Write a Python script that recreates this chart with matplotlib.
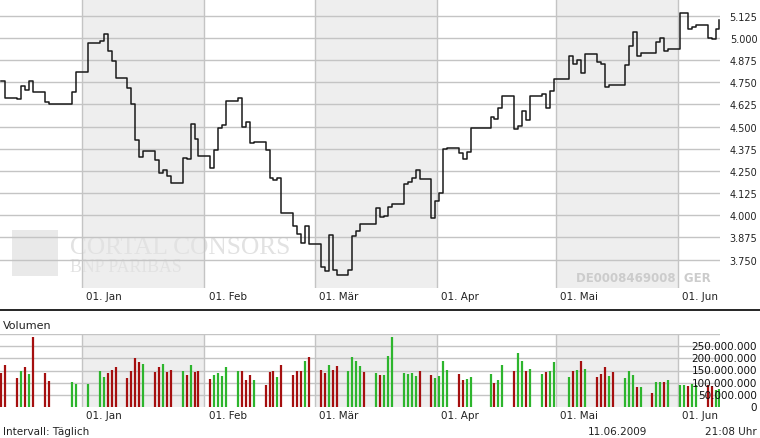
import matplotlib
matplotlib.use("Agg")
import matplotlib.pyplot as plt
from matplotlib.patches import Rectangle
from matplotlib.lines import Line2D
import pandas as pd

# Kursdaten (Tagesschluss) und Volumen
dates = [
    "2008-12-11", "2008-12-12", "2008-12-15", "2008-12-16", "2008-12-17", "2008-12-18", "2008-12-19",
    "2008-12-22", "2008-12-23", "2008-12-29", "2008-12-30", "2009-01-02",
    "2009-01-05", "2009-01-06", "2009-01-07", "2009-01-08", "2009-01-09",
    "2009-01-12", "2009-01-13", "2009-01-14", "2009-01-15", "2009-01-16",
    "2009-01-19", "2009-01-20", "2009-01-21", "2009-01-22", "2009-01-23",
    "2009-01-26", "2009-01-27", "2009-01-28", "2009-01-29", "2009-01-30",
    "2009-02-02", "2009-02-03", "2009-02-04", "2009-02-05", "2009-02-06",
    "2009-02-09", "2009-02-10", "2009-02-11", "2009-02-12", "2009-02-13",
    "2009-02-16", "2009-02-17", "2009-02-18", "2009-02-19", "2009-02-20",
    "2009-02-23", "2009-02-24", "2009-02-25", "2009-02-26", "2009-02-27",
    "2009-03-02", "2009-03-03", "2009-03-04", "2009-03-05", "2009-03-06",
    "2009-03-09", "2009-03-10", "2009-03-11", "2009-03-12", "2009-03-13",
    "2009-03-16", "2009-03-17", "2009-03-18", "2009-03-19", "2009-03-20",
    "2009-03-23", "2009-03-24", "2009-03-25", "2009-03-26", "2009-03-27",
    "2009-03-30", "2009-03-31", "2009-04-01", "2009-04-02", "2009-04-03",
    "2009-04-06", "2009-04-07", "2009-04-08", "2009-04-09",
    "2009-04-14", "2009-04-15", "2009-04-16", "2009-04-17",
    "2009-04-20", "2009-04-21", "2009-04-22", "2009-04-23", "2009-04-24",
    "2009-04-27", "2009-04-28", "2009-04-29", "2009-04-30",
    "2009-05-04", "2009-05-05", "2009-05-06", "2009-05-07", "2009-05-08",
    "2009-05-11", "2009-05-12", "2009-05-13", "2009-05-14", "2009-05-15",
    "2009-05-18", "2009-05-19", "2009-05-20", "2009-05-21", "2009-05-22",
    "2009-05-25", "2009-05-26", "2009-05-27", "2009-05-28", "2009-05-29",
    "2009-06-01", "2009-06-02", "2009-06-03", "2009-06-04", "2009-06-05",
    "2009-06-08", "2009-06-09", "2009-06-10", "2009-06-11",
]

kurs = [
    4.759, 4.659, 4.654, 4.727, 4.705, 4.755, 4.693,
    4.637, 4.625, 4.698, 4.806, 4.970,
    4.982, 5.021, 4.929, 4.872, 4.776,
    4.716, 4.629, 4.422, 4.331, 4.363,
    4.312, 4.237, 4.255, 4.220, 4.180,
    4.325, 4.320, 4.516, 4.429, 4.337,
    4.269, 4.371, 4.490, 4.508, 4.642,
    4.663, 4.499, 4.529, 4.408, 4.412,
    4.367, 4.210, 4.201, 4.210, 4.014,
    3.937, 3.895, 3.846, 3.941, 3.839,
    3.707, 3.688, 3.890, 3.692, 3.665,
    3.692, 3.886, 3.910, 3.952, 3.950,
    4.043, 3.988, 3.995, 4.046, 4.065,
    4.174, 4.186, 4.212, 4.258, 4.203,
    3.987, 4.082, 4.127, 4.374, 4.382,
    4.350, 4.320, 4.356, 4.493,
    4.552, 4.546, 4.608, 4.671,
    4.486, 4.501, 4.591, 4.535, 4.671,
    4.685, 4.605, 4.699, 4.767,
    4.897, 4.852, 4.874, 4.801, 4.910,
    4.866, 4.852, 4.722, 4.733, 4.733,
    4.846, 4.954, 5.033, 4.897, 4.916,
    4.916, 4.980, 4.999, 4.929, 4.938,
    5.140, 5.140, 5.050, 5.063, 5.074,
    4.999, 4.993, 5.050, 5.102,
]

# Volumen in Mio. Stueck
volumen = [
    138, 171, 118, 150, 163, 134, 287,
    138, 106, 102, 93, 93,
    150, 122, 138, 154, 163,
    118, 146, 203, 183, 175,
    142, 163, 175, 142, 154,
    150, 130, 171, 142, 146,
    114, 130, 138, 126, 163,
    146, 146, 110, 130, 110,
    89, 142, 146, 122, 171,
    130, 150, 150, 187, 207,
    154, 138, 171, 154, 167,
    146, 207, 187, 167, 142,
    138, 130, 130, 211, 286,
    138, 134, 138, 126, 146,
    130, 118, 126, 187, 154,
    134, 110, 114, 122,
    134, 98, 110, 171,
    146, 220, 187, 146, 158,
    134, 142, 150, 183,
    122, 146, 154, 191, 158,
    122, 134, 163, 126, 142,
    118, 150, 130, 81, 81,
    57, 102, 102, 102, 110,
    89, 89, 85, 93, 89,
    89, 85, 69, 73,
]

# g = steigend (gruen), r = fallend (rot)
farbe = (
    "rrrgrgr" "rrggg" "gg" "rrr" "rrrrg" "rrgrr" "grgrr" "rgggg" "grrrg"
    "rrrgr" "rrrgr" "rrgrr" "ggggr" "grggg" "ggggr" "rgggg" "rrgg" "grgg"
    "rggrg" "grgg" "grgrg" "rrrgr" "gggrg" "rggrg" "ggrgg" "rrgg"
)

monate = ["2009-01-01", "2009-02-01", "2009-03-01", "2009-04-01", "2009-05-01", "2009-06-01"]
monat_labels = ["01. Jan", "01. Feb", "01. Mär", "01. Apr", "01. Mai", "01. Jun"]
grau_baender = [("2009-01-01", "2009-02-01"), ("2009-03-01", "2009-04-01"), ("2009-05-01", "2009-06-01")]

kurs_ticks = [3.750, 3.875, 4.000, 4.125, 4.250, 4.375, 4.500, 4.625, 4.750, 4.875, 5.000, 5.125]
vol_ticks = [0, 50, 100, 150, 200, 250]

x = pd.to_datetime(dates) + pd.Timedelta(hours=12)
monate_dt = pd.to_datetime(monate)
x_min = pd.Timestamp("2008-12-11 05:00")
x_max = pd.Timestamp("2009-06-11 15:20")

W, H = 760, 439
fig = plt.figure(figsize=(W / 100, H / 100), dpi=100)
fig.patch.set_facecolor("white")
plt.rcParams["font.family"] = ["DejaVu Sans"]

GRID = "#c4c4c4"
BAND = "#eeeeee"

ax = fig.add_axes([0, 1 - 289 / H, 720 / W, 289 / H])
axv = fig.add_axes([0, (H - 408) / H, 720 / W, 73 / H])

for a in (ax, axv):
    for s in a.spines.values():
        s.set_visible(False)
    a.set_xlim(x_min, x_max)
    for b0, b1 in grau_baender:
        a.axvspan(pd.Timestamp(b0), pd.Timestamp(b1), color=BAND, lw=0, zorder=0)
    for m in monate_dt:
        a.axvline(m, color=GRID, lw=1, zorder=2)
    a.set_xticks([])
    for m, lbl in zip(monate_dt, monat_labels):
        a.annotate(lbl, xy=(m, 0), xycoords=("data", "axes fraction"),
                   xytext=(3, -2), textcoords="offset points",
                   ha="left", va="top", fontsize=7.5, color="#222222")

# Wasserzeichen (unter den Gitterlinien)
ax.add_patch(Rectangle((12 / W, 1 - 277 / H), 46 / W, 46 / H, transform=fig.transFigure,
                       color="#e9e9e9", lw=0, zorder=1))
ax.text(70 / W, 1 - 254 / H, "CORTAL CONSORS", fontsize=18.3, family="Liberation Serif",
        color="#e2e2e2", ha="left", va="baseline", transform=fig.transFigure, zorder=1)
ax.text(70 / W, 1 - 272 / H, "BNP PARIBAS", fontsize=12.8, family="Liberation Serif",
        color="#e2e2e2", ha="left", va="baseline", transform=fig.transFigure, zorder=1)
ax.text(711 / W, 1 - 279 / H, "DE0008469008  GER", fontsize=8.5, fontweight="bold",
        color="#cccccc", ha="right", va="center", transform=fig.transFigure, zorder=1)

# Kurs
ax.set_ylim(3.59, 5.22)
for t in kurs_ticks:
    ax.axhline(t, color=GRID, lw=1, zorder=2)
ax.set_yticks(kurs_ticks)
ax.set_yticklabels([f"{t:.3f}" for t in kurs_ticks])
ax.tick_params(axis="y", left=False, labelleft=False, right=False, labelright=True,
               length=0, pad=27, labelsize=7, labelcolor="#222222")
for lbl in ax.get_yticklabels():
    lbl.set_ha("right")
ax.step(x, kurs, where="post", color="#1a1a1a", lw=1.1, zorder=3)

# Volumen
axv.set_ylim(0, 300)
for t in vol_ticks[1:] + [300]:
    axv.axhline(t, color=GRID, lw=1, zorder=1)
farben = ["#2db52d" if f == "g" else "#a50f0f" for f in farbe]
axv.vlines(x, 0, volumen, colors=farben, lw=1.6, zorder=3)
for t in vol_ticks:
    lbl = "0" if t == 0 else f"{t * 1000000:,}".replace(",", ".")
    axv.annotate(lbl, xy=(0, t), xycoords=(fig.transFigure, "data"),
                 xytext=(757, 0), textcoords=("figure pixels", "offset points"),
                 ha="right", va="center", fontsize=7.5, color="#111111", zorder=5)
axv.set_yticks([])

fig.add_artist(Line2D([0, 1], [1 - 311 / H, 1 - 311 / H], transform=fig.transFigure,
                      color="black", lw=1.2))
fig.text(3 / W, 1 - 326 / H, "Volumen", fontsize=8, color="#222222", ha="left", va="center")
fig.text(3 / W, 1 - 432 / H, "Intervall: Täglich", fontsize=7.5, color="#222222", ha="left", va="center")
fig.text(647 / W, 1 - 432 / H, "11.06.2009", fontsize=7.5, color="#222222", ha="right", va="center")
fig.text(757 / W, 1 - 432 / H, "21:08 Uhr", fontsize=7.5, color="#222222", ha="right", va="center")

fig.savefig("out.png", dpi=100, facecolor="white")
